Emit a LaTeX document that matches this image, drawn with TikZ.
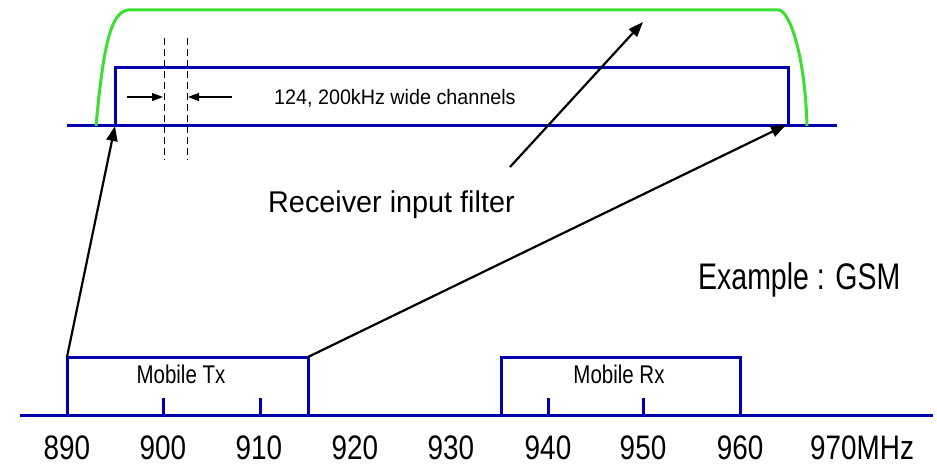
\documentclass[tikz,border=0pt]{standalone}
\usepackage{fontspec}
\setmainfont{Liberation Sans}
\usetikzlibrary{arrows.meta}
\definecolor{bandblue}{RGB}{0,0,175}
\definecolor{filtgreen}{RGB}{60,222,50}
\begin{document}
\begin{tikzpicture}[x=1pt,y=-1pt,
  band/.style={draw=bandblue,line width=3pt,line join=miter},
  filt/.style={draw=filtgreen,line width=3pt,line join=round},
  ptr/.style={draw=black,line width=2.2pt,-{Triangle[length=15pt,width=11pt]}},
  chan/.style={draw=black,line width=1.1pt,-{Triangle[length=11pt,width=8pt]}},
  guide/.style={draw=black,line width=1pt,dash pattern=on 7pt off 4pt},
  axlbl/.style={font=\fontsize{34}{36}\selectfont,xscale=.82,inner sep=0,anchor=base},
  boxlbl/.style={font=\fontsize{25.6}{28}\selectfont,xscale=.80,inner sep=0,anchor=base},
  txt/.style={inner sep=0,anchor=base west}]
\useasboundingbox (0,0) rectangle (937,465);
% ---- coordinates
\coordinate (axL) at (20,415);   \coordinate (axR) at (933,415);
\coordinate (txBL) at (67,415);  \coordinate (txTL) at (67,357);
\coordinate (txTR) at (308,357); \coordinate (txBR) at (308,415);
\coordinate (rxBL) at (501,415); \coordinate (rxTL) at (501,357);
\coordinate (rxTR) at (740,357); \coordinate (rxBR) at (740,415);
\coordinate (topL) at (67,126);  \coordinate (topR) at (837,126);
\coordinate (chBL) at (115,126); \coordinate (chTL) at (115,68);
\coordinate (chTR) at (788,68);  \coordinate (chBR) at (788,126);
\coordinate (fTail) at (510,167); \coordinate (fHead) at (643,22);
% ---- bottom axis and bands
\draw[band] (axL) -- (axR);
\draw[band] (txBL) -- (txTL) -- (txTR) -- (txBR);
\draw[band] (rxBL) -- (rxTL) -- (rxTR) -- (rxBR);
\foreach \x in {163,260,548,643} \draw[band] (\x,415) -- (\x,398);
% ---- top: channel band
\draw[band] (topL) -- (topR);
\draw[band] (chBL) -- (chTL) -- (chTR) -- (chBR);
% ---- filter
\draw[filt] (96,126) .. controls (103,50) and (110,12) .. (128,10) -- (779,10)
  .. controls (790,12) and (805,55) .. (807,126);
% ---- channel spacing
\draw[guide] (164,38) -- (164,160);
\draw[guide] (187,38) -- (187,160);
\coordinate (cA) at (127,97); \coordinate (cAe) at (163,97);
\coordinate (cB) at (232,97); \coordinate (cBe) at (188,97);
\draw[chan] (cA) -- (cAe);
\draw[chan] (cB) -- (cBe);
\node[txt,font=\fontsize{21}{24}\selectfont,xscale=.94] (chtext) at (274,105) {124, 200kHz wide channels};
% ---- pointers
\draw[ptr] (txTL) -- (chBL);
\draw[ptr] (txTR) -- ([xshift=-2pt,yshift=1pt]chBR);
\draw[ptr] (fTail) -- (fHead);
% ---- labels
\node[txt,font=\fontsize{30}{33}\selectfont,xscale=.96] (rif) at (268,213) {Receiver input filter};
\node[txt,font=\fontsize{37}{40}\selectfont,xscale=.77] (ex) at (698,289) {Example : GSM};
\node[boxlbl] (mtx) at (181,383) {Mobile Tx};
\node[boxlbl] (mrx) at (619,383) {Mobile Rx};
\node[axlbl] (l890) at (67,459) {890};
\node[axlbl] (l900) at (163,459) {900};
\node[axlbl] (l910) at (259,459) {910};
\node[axlbl] (l920) at (355,459) {920};
\node[axlbl] (l930) at (451,459) {930};
\node[axlbl] (l940) at (548,459) {940};
\node[axlbl] (l950) at (643,459) {950};
\node[axlbl] (l960) at (740,459) {960};
\node[axlbl,anchor=base west] (l970) at (810,459) {970MHz};
\end{tikzpicture}
\end{document}
